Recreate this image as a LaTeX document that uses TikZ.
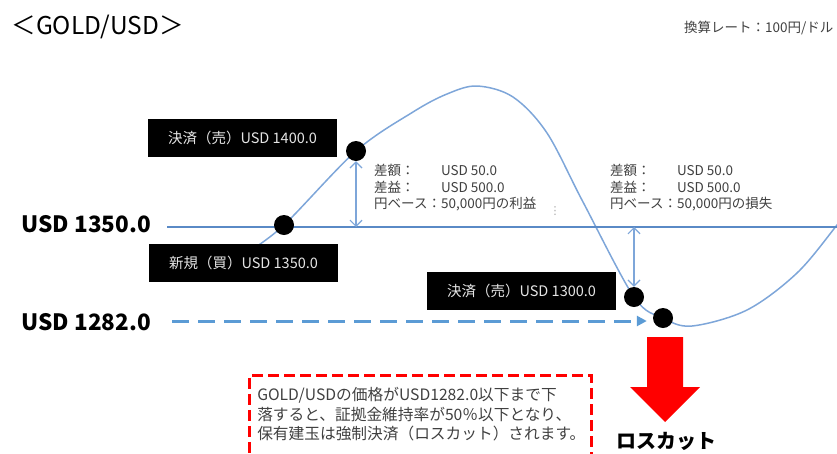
\documentclass[tikz,border=0pt]{standalone}
\usepackage{fontspec}
\setmainfont{Noto Sans CJK JP}
\newfontfamily\symfont{DejaVu Sans}
\usepackage{tikz}
\usetikzlibrary{positioning,arrows.meta}
\definecolor{LineBlue}{HTML}{5A8AC6}
\definecolor{CurveBlue}{HTML}{7EA6D9}
\definecolor{DashBlue}{HTML}{5B9BD5}
\definecolor{TextGray}{HTML}{404040}

\begin{document}
\begin{tikzpicture}[x=1pt, y=-1pt,
    pricetag/.style={fill=black, text=white!90!black, minimum width=189pt, minimum height=38pt, inner sep=0pt, font=\fontsize{14.5}{16}\selectfont},
    tradept/.style={circle, fill=black, minimum size=20pt, inner sep=0pt},
    diffinfo/.style={anchor=north west, text=TextGray, inner sep=0pt, font=\fontsize{13.5}{16.5}\selectfont},
    levelnum/.style={anchor=west, font=\fontsize{22.5}{26}\selectfont\bfseries}]
        \useasboundingbox (0,0) rectangle (837,453);
        \clip (0,0) rectangle (837,453);

        % Titel und Kurs
        \node[anchor=west, font=\fontsize{24.5}{28}\selectfont] (title) at (8,27) {＜GOLD/USD＞};
        \node[anchor=east, text=TextGray, font=\fontsize{13.5}{16}\selectfont] (rate) at (837,28) {換算レート：100円/ドル};

        \node[levelnum] (lv1350) at (18,224) {USD 1350.0};
        \node[levelnum] (lv1282) at (18,322) {USD 1282.0};
        \coordinate (baseL) at (167,227);
        \coordinate (baseR) at (837,227);
        \coordinate (dashL) at (172,321);

        % Preisverlauf
        \draw[CurveBlue, line width=1.5pt] plot[smooth, tension=0.55] coordinates {(248,252) (284,225) (356,151) (413,112) (447,94) (477,86) (513,97) (547,133) (583,202) (634,297) (663,318) (692,326) (747,310) (797,273) (837,225) (860,195)};
        \draw[LineBlue, line width=2.5pt] (baseL) -- (baseR);

        \node[tradept] (pbuy) at (284,225) {};
        \node[tradept] (psell) at (356,151) {};
        \node[tradept] (pclose) at (634,297) {};
        \node[tradept] (plc) at (663,318) {};

        \node[pricetag] (tag1400) at (242.5,138) {決済（売）USD 1400.0};
        \node[pricetag] (tag1350) at (243.5,263) {新規（買）USD 1350.0};
        \node[pricetag] (tag1300) at (521.5,290.5) {決済（売）USD 1300.0};

        \node[diffinfo] (gain) at (374,164) {\begin{tabular}{@{}l@{}l@{}}差額：&USD 50.0\\差益：&USD 500.0\\円ベース：&50,000円の利益\end{tabular}};
        \node[diffinfo] (loss) at (610,164) {\begin{tabular}{@{}l@{}l@{}}差額：&USD 50.0\\差益：&USD 500.0\\円ベース：&50,000円の損失\end{tabular}};
        \node[text=black!35, font=\symfont\fontsize{11}{12}\selectfont, inner sep=0pt] (sep) at (555,211) {⋮};

        \draw[CurveBlue, line width=1.2pt, {Straight Barb[length=6pt]}-{Straight Barb[length=6pt]}] (psell.south) -- (psell.south |- baseL);
        \draw[CurveBlue, line width=1.2pt, {Straight Barb[length=6pt]}-{Straight Barb[length=6pt]}] (pclose.north |- baseL) -- (pclose.north);

        \draw[DashBlue, line width=3pt, dash pattern=on 17pt off 9pt, -{Triangle[length=10pt, width=10pt]}, shorten >=6pt] (dashL) -- (plc.west |- dashL);

        % Ausloesung
        \node[draw=red, line width=2.5pt, dash pattern=on 11pt off 5pt, anchor=north west, align=left, text width=326pt, inner xsep=8pt, inner ysep=12pt, text depth=60pt, text=TextGray, font=\fontsize{15.7}{19.5}\selectfont] (warn) at (248,374) {GOLD/USDの価格がUSD1282.0以下まで下\\落すると、証拠金維持率が50％以下となり、\\保有建玉は強制決済（ロスカット）されます。};
        \fill[red] (647,337) -- (683,337) -- (683,387) -- (700,387) -- (665,422) -- (630,387) -- (647,387) -- cycle;
        \node[font=\fontsize{20}{24}\selectfont\bfseries] (losscut) at (666,441) {ロスカット};
\end{tikzpicture}
\end{document}
